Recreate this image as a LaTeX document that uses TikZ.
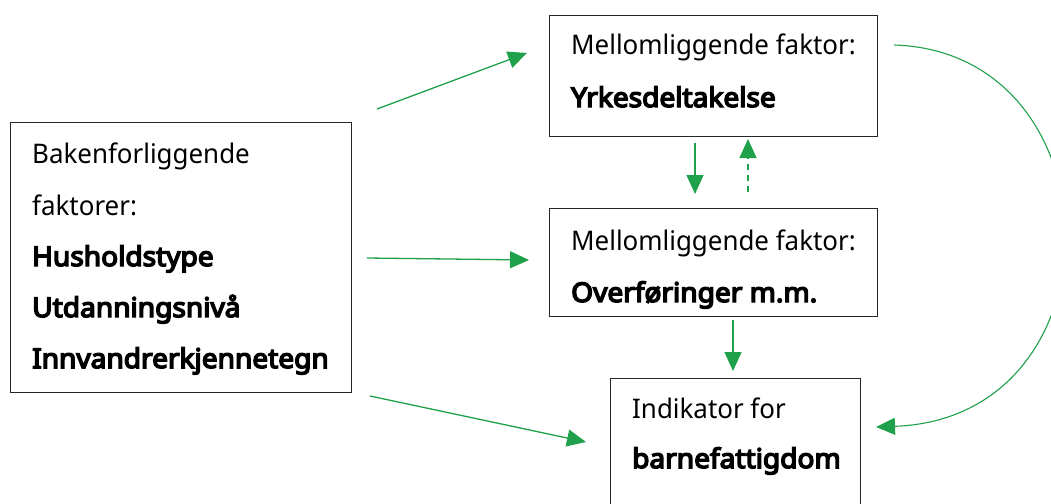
\documentclass[tikz,border=0pt]{standalone}
\usepackage{fontspec}
\setmainfont{Noto Sans}[FakeStretch=0.96, BoldFont={Noto Sans}, BoldFeatures={FakeBold=5.5, FakeStretch=1.04}]
\usetikzlibrary{arrows.meta}
\definecolor{arrowgreen}{HTML}{1FA04A}
\begin{document}
\begin{tikzpicture}[x=1pt,y=-1pt,
  box/.style={draw=black!85, line width=1.4pt, rectangle, inner sep=0pt},
  txt/.style={anchor=base west, inner sep=0pt, font=\fontsize{27}{27}\selectfont},
  btxt/.style={txt, font=\fontsize{27}{27}\selectfont\bfseries},
  link/.style={draw=arrowgreen, line width=1.3pt, -{Triangle[length=19pt,width=17pt]}},
  dlink/.style={link, dash pattern=on 6pt off 5pt}]
\useasboundingbox (0,0) rectangle (1051,503);
\clip (0,0) rectangle (1051,503);
% boxes
\node[box, minimum width=341pt, minimum height=270pt, anchor=north west] (left) at (10,122) {};
\node[box, minimum width=328pt, minimum height=121pt, anchor=north west] (top) at (549,15) {};
\node[box, minimum width=328pt, minimum height=108pt, anchor=north west] (mid) at (549,208) {};
\node[box, minimum width=250pt, minimum height=150pt, anchor=north west] (bot) at (610,378) {};
% texts
\node[txt]  (l1) at (32,163) {Bakenforliggende};
\node[txt]  (l2) at (32,215) {faktorer:};
\node[btxt] (l3) at (32,266) {Husholdstype};
\node[btxt] (l4) at (32,317) {Utdanningsnivå};
\node[btxt] (l5) at (32,368) {Innvandrerkjennetegn};
\node[txt]  (t1) at (571,55) {Mellomliggende faktor:};
\node[btxt] (t2) at (571,107) {Yrkesdeltakelse};
\node[txt]  (m1) at (571,250) {Mellomliggende faktor:};
\node[btxt] (m2) at (571,302) {Overføringer m.m.};
\node[txt]  (b1) at (632,418) {Indikator for};
\node[btxt] (b2) at (632,468) {barnefattigdom};
% connector end points
\coordinate (a1s) at (377,109); \coordinate (a1e) at (527,53);
\coordinate (a2s) at (367,258); \coordinate (a2e) at (529,260);
\coordinate (a3s) at (370,396); \coordinate (a3e) at (586,442);
\coordinate (a4s) at (695,143); \coordinate (a4e) at (695,194);
\coordinate (a5s) at (748,192); \coordinate (a5e) at (748,139);
\coordinate (a6s) at (733,320); \coordinate (a6e) at (733,371);
\coordinate (a7s) at (894,45);  \coordinate (a7e) at (876,427);
\draw[link] (a1s) -- (a1e);
\draw[link] (a2s) -- (a2e);
\draw[link] (a3s) -- (a3e);
\draw[link] (a4s) -- (a4e);
\draw[dlink] (a5s) -- (a5e);
\draw[link] (a6s) -- (a6e);
\draw[link, line width=1.1pt] (a7s) .. controls (1120,52) and (1125,418) .. (a7e);
\end{tikzpicture}
\end{document}
